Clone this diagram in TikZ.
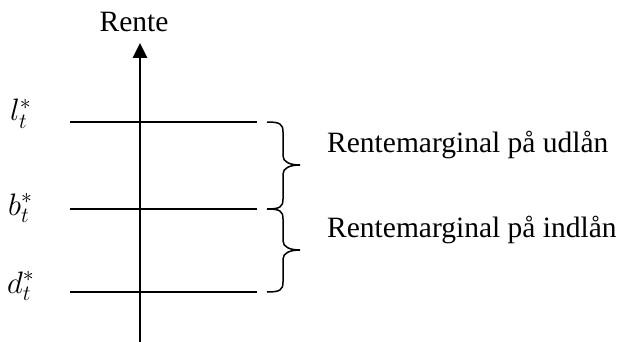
\documentclass[tikz,border=0pt]{standalone}
\usepackage{fix-cm}
\usepackage{fontspec}
\setmainfont{Liberation Serif}
\usetikzlibrary{arrows.meta}
\begin{document}
\begin{tikzpicture}[x=1pt,y=-1pt,
  txt/.style={inner sep=0pt,anchor=base west,font=\fontsize{29.5}{34}\selectfont},
  mlab/.style={inner sep=0pt,anchor=base west,font=\fontsize{31}{37}\selectfont},
  level/.style={line width=1.8pt},
  brace/.style={line width=1.5pt},
  axisline/.style={line width=2.6pt,-{Triangle[length=15pt,width=14pt]}}]
\useasboundingbox (0,0) rectangle (626,342);
% axis
\coordinate (ab) at (140,342);
\coordinate (at) at (140,43);
\draw[axisline] (ab) -- (at);
\node[inner sep=0pt,anchor=base,font=\fontsize{29.5}{34}\selectfont] (rente) at (134,32) {Rente};
% levels
\coordinate (l0) at (70,122); \coordinate (l1) at (257,122);
\coordinate (b0) at (70,209); \coordinate (b1) at (257,209);
\coordinate (d0) at (70,292); \coordinate (d1) at (257,292);
\draw[level] (l0) -- (l1);
\draw[level] (b0) -- (b1);
\draw[level] (d0) -- (d1);
\node[mlab] (ll) at (10,121) {$l_t^*$};
\node[mlab] (bl) at (8,215) {$b_t^*$};
\node[mlab] (dl) at (7,293) {$d_t^*$};
% braces
\draw[brace] (267,122) .. controls (280,122) and (283,124) .. (283,132) -- (283,156)
  .. controls (283,162) and (290,165) .. (300,165)
  .. controls (290,165) and (283,168) .. (283,174) -- (283,199)
  .. controls (283,207) and (280,209) .. (267,209);
\draw[brace] (267,209) .. controls (280,209) and (283,211) .. (283,219) -- (283,241)
  .. controls (283,247) and (290,250) .. (300,250)
  .. controls (290,250) and (283,253) .. (283,259) -- (283,282)
  .. controls (283,290) and (280,292) .. (267,292);
\node[txt] (m1) at (327,152) {Rentemarginal på udlån};
\node[txt] (m2) at (327,237) {Rentemarginal på indlån};
\end{tikzpicture}
\end{document}
